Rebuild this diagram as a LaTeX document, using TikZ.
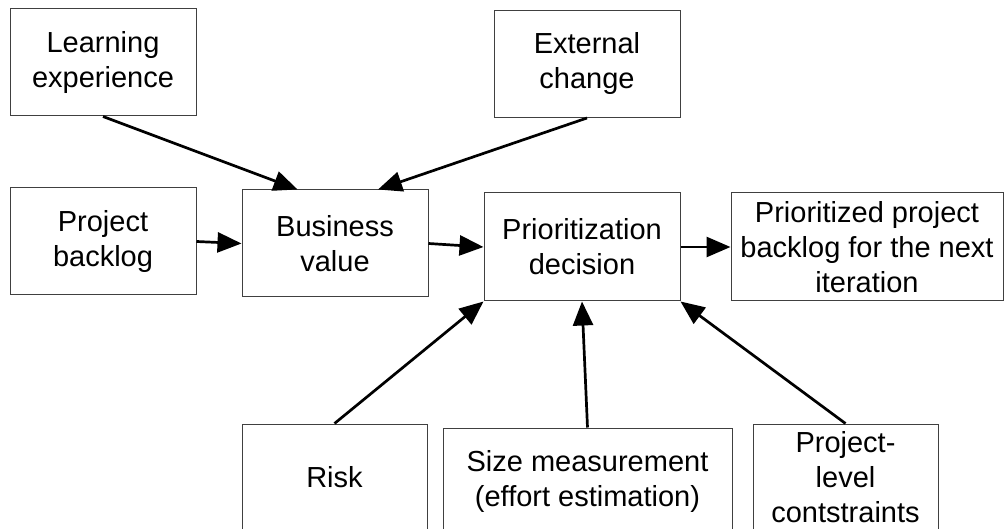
\documentclass[tikz,border=0pt]{standalone}
\usepackage{fontspec}
\setmainfont{Liberation Sans}
\usepackage{tikz}
\usetikzlibrary{arrows.meta,calc}

\begin{document}
\begin{tikzpicture}[x=1pt, y=-1pt, font=\fontsize{29}{35}\selectfont,
  box/.style={draw=black!75, line width=1pt, align=center, inner sep=0pt,
    minimum width=186pt, minimum height=107pt},
  flow/.style={-{Triangle[length=24pt,width=20pt]}, line width=2.7pt}]
  \useasboundingbox (0,0) rectangle (1004,529);
  \node[box] (learn) at (103,62.5) {Learning\\experience};
  \node[box] (ext) at (587,64) {External\\change};
  \node[box] (pb) at (103,241.5) {Project\\backlog};
  \node[box] (bv) at (335,243.5) {Business\\value};
  \node[box, minimum width=196pt, minimum height=108pt] (pd) at (582,247) {Prioritization\\decision};
  \node[box, minimum width=272pt, minimum height=108pt] (pp) at (867,247) {Prioritized project\\backlog for the next\\iteration};
  \node[box, minimum width=185pt] (risk) at (334.5,477.5) {Risk};
  \node[box, minimum width=289pt] (size) at (587.5,481.5) {Size measurement\\(effort estimation)};
  \node[box, minimum width=185pt] (plc) at (845.5,477.5) {Project-\\level\\contstraints};
  \draw[flow] (learn.south) -- ($(bv.north west)!0.3!(bv.north east)$);
  \draw[flow] (ext.south) -- ($(bv.north west)!0.73!(bv.north east)$);
  \draw[flow] (pb.east) -- (bv.west);
  \draw[flow] (bv.east) -- (pd.west);
  \draw[flow] (pd.east) -- (pp.west);
  \draw[flow] (risk.north) -- (pd.south west);
  \draw[flow] (size.north) -- (pd.south);
  \draw[flow] (plc.north) -- (pd.south east);
\end{tikzpicture}
\end{document}
